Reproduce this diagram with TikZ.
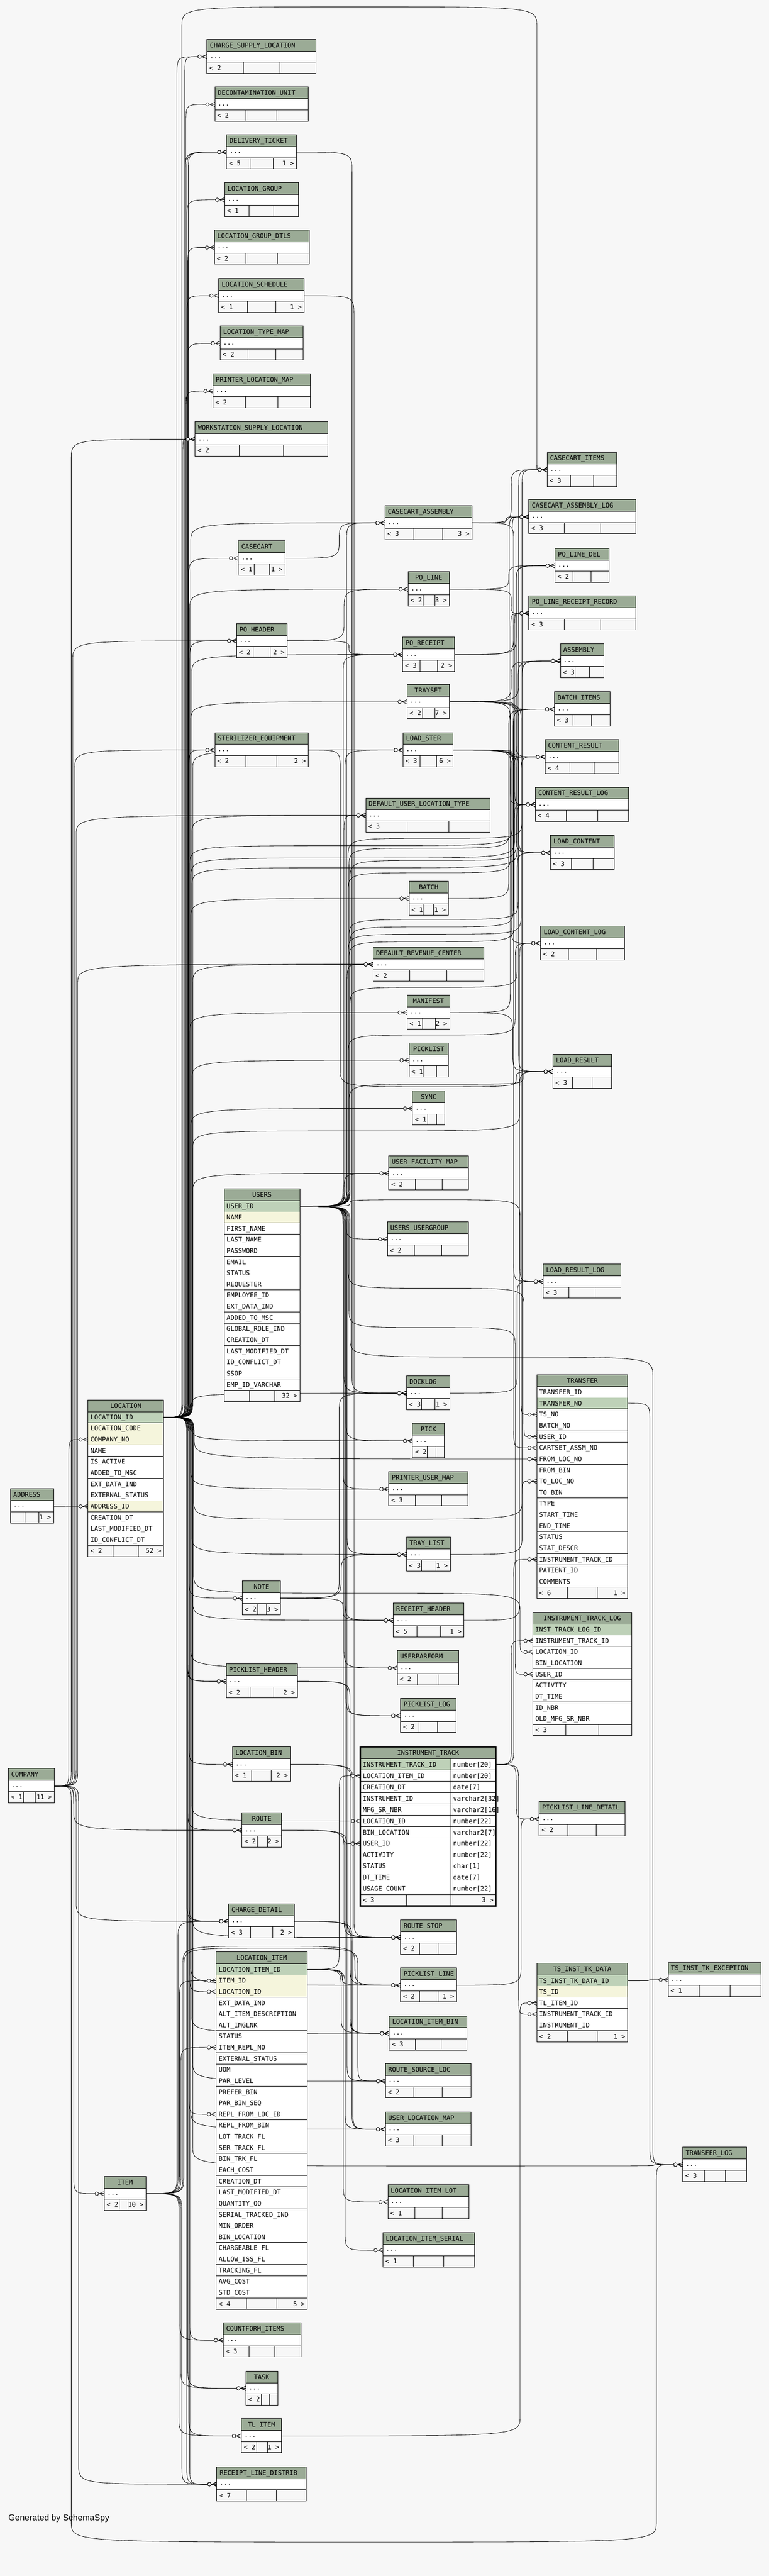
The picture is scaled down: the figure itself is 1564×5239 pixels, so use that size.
\documentclass[tikz,border=0pt]{standalone}
\usepackage{fontspec}
\setmonofont{DejaVu Sans Mono}
\newfontfamily\gensans{Liberation Sans}
\usetikzlibrary{calc}
\pgfdeclarelayer{back}\pgfdeclarelayer{edges}\pgfsetlayers{back,edges,main}
\definecolor{bgc}{HTML}{F7F7F7}
\definecolor{hdc}{HTML}{9BAB96}
\definecolor{pkc}{HTML}{BED1B8}
\definecolor{ixc}{HTML}{F5F5DC}
\tikzset{
 fk/.style={draw=black,line width=0.85pt},
 tb/.style={draw=black,line width=1pt},
 tbnode/.style={draw=black,line width=1pt,fill=bgc,inner sep=0pt,outer sep=0pt,anchor=north west},
 txt/.style={font=\ttfamily\fontsize{13.1pt}{15pt}\selectfont,inner sep=0pt,outer sep=0pt,text=black},
}
% crow's foot with open circle at a child entry
\newcommand\crowat[1]{%
 \draw[fk] ($(#1)+(-18.5,0)$) -- (#1);
 \draw[fk] ($(#1)+(-10,0)$) -- ($(#1)+(0,-4.5)$);
 \draw[fk] ($(#1)+(-10,0)$) -- ($(#1)+(0,4.5)$);
 \draw[fk,fill=bgc] ($(#1)+(-15,0)$) circle[radius=3.6pt];}
% one-bus connector
\newcommand\fkA[3]{%
 \draw[fk] let \p1=(#1), \p2=($(#2)+(-18.5,0)$),
  \n1={(2*((\y2)>(\y1))-1)*min(40,abs((\y2)-(\y1))/2)} in
  (\p1) .. controls (#3pt,\y1) and (#3pt,\y1) .. (#3pt,{\y1+(\n1)})
  -- (#3pt,{\y2-(\n1)}) .. controls (#3pt,\y2) and (#3pt,\y2) .. (\p2);
 \crowat{#2}}
% two-bus connector through a corridor
\newcommand\fkB[5]{%
 \draw[fk] let \p1=(#1), \p2=($(#2)+(-18.5,0)$), \p3=(#3,#4), \p4=(#5,#4),
  \n1={(2*((\y3)>(\y1))-1)*min(40,abs((\y3)-(\y1))/2)},
  \n2={(2*((\y2)>(\y3))-1)*min(40,abs((\y2)-(\y3))/2)} in
  (\p1) .. controls (\x3,\y1) and (\x3,\y1) .. (\x3,{\y1+(\n1)})
  -- (\x3,{\y3-(\n1)}) .. controls (\p3) and (\p3) .. ({(\x3+\x4)/2},\y3)
  .. controls (\p4) and (\p4) .. (\x4,{\y3+(\n2)})
  -- (\x4,{\y2-(\n2)}) .. controls (\x4,\y2) and (\x4,\y2) .. (\p2);
 \crowat{#2}}
% collapsed table core
\newcommand\ctabcore[8]{%
 \pgfmathsetmacro\tbW{#4-#2}%
 \node[tbnode,minimum width=\tbW pt,minimum height=69.33pt] (#1) at (#2,#3) {};
 \fill[hdc] (#2,#3) rectangle (#4,#3+24);
 \fill[white] (#2,#3+24) rectangle (#4,#3+46.67);
 \draw[tb] (#2,#3+24) -- (#4,#3+24) (#2,#3+46.67) -- (#4,#3+46.67);
 \if c#8\node[txt,anchor=base] (#1-h) at ({(#2+#4)/2},#3+16.7) {#5};%
 \else\node[txt,anchor=base west] (#1-h) at (#2+6,#3+16.7) {#5};\fi
 \node[txt,anchor=base west] (#1-d) at (#2+6,#3+38) {...};
 \node[txt,anchor=base west] (#1-fl) at (#2+5,#3+62.7) {#6};
 \node[txt,anchor=base east] (#1-fr) at (#4-5,#3+62.7) {#7};
 \coordinate (#1-in) at (#2,#3+35.33);
 \coordinate (#1-out) at (#4,#3+35.33);}
\newcommand\ctab[8]{%
 \ctabcore{#1}{#2}{#3}{#4}{#5}{#6}{#7}{#8}%
 \pgfmathsetmacro\tbDa{#2+(#4-#2)/3}\pgfmathsetmacro\tbDb{#2+2*(#4-#2)/3}%
 \draw[tb] (\tbDa,#3+46.67) -- (\tbDa,#3+69.33) (\tbDb,#3+46.67) -- (\tbDb,#3+69.33);
 \draw[tb] (#2,#3) rectangle (#4,#3+69.33);}
\newcommand\ctabn[9]{%
 \ctabcore{#1}{#2}{#3}{#4}{#5}{#6}{#7}{#9}%
 \foreach \dx in {#8} {\draw[tb] (\dx,#3+46.67) -- (\dx,#3+69.33);}
 \draw[tb] (#2,#3) rectangle (#4,#3+69.33);}
% full tables
\newcommand\ftab[8]{%
 \pgfmathsetmacro\tbW{#4-#2}%
 \pgfmathsetmacro\tbH{24+(#5+1)*22.667}%
 \node[tbnode,minimum width=\tbW pt,minimum height=\tbH pt] (#1) at (#2,#3) {};
 \fill[hdc] (#2,#3) rectangle (#4,#3+24);
 \node[txt,anchor=base] (#1-h) at ({(#2+#4)/2},#3+16.7) {#6};
 \pgfmathsetmacro\tbFy{#3+24+#5*22.667}%
 \pgfmathsetmacro\tbDa{#2+\tbW/3}\pgfmathsetmacro\tbDb{#2+2*\tbW/3}%
 \draw[tb] (\tbDa,\tbFy) -- (\tbDa,\tbFy+22.667) (\tbDb,\tbFy) -- (\tbDb,\tbFy+22.667);
 \node[txt,anchor=base west] (#1-fl) at (#2+5,\tbFy+16) {#7};
 \node[txt,anchor=base east] (#1-fr) at (#4-5,\tbFy+16) {#8};}
\newcommand\frows[5]{%
 \foreach \s/\t [count=\i from 0] in {#5} {
  \fill[\s] (#2,{#3+24+\i*22.667}) rectangle (#4,{#3+24+(\i+1)*22.667});
  \draw[tb] (#2,{#3+24+(\i+1)*22.667}) -- (#4,{#3+24+(\i+1)*22.667});
  \node[txt,anchor=base west] (#1-r\i) at (#2+5,{#3+24+\i*22.667+16}) {\t};
 }
 \draw[tb] (#2,#3+24) -- (#4,#3+24);}
\newcommand\fborder[1]{\draw[tb] (#1.north west) rectangle (#1.south east);}

\begin{document}
\begin{tikzpicture}[x=1pt,y=-1pt]
\useasboundingbox (0,0) rectangle (1564,5239);
\begin{pgfonlayer}{back}
\fill[bgc] (0,0) rectangle (1564,5239);
\end{pgfonlayer}

% ---------------- collapsed tables ----------------
\ctab{CSL}{421}{80}{643}{CHARGE\_SUPPLY\_LOCATION}{< 2}{}{l}
\ctab{DCU}{437}{177}{627}{DECONTAMINATION\_UNIT}{< 2}{}{l}
\ctab{DLT}{461}{274}{603}{DELIVERY\_TICKET}{< 5}{1 >}{l}
\ctab{LGR}{457}{371}{607}{LOCATION\_GROUP}{< 1}{}{l}
\ctab{LGD}{436}{468}{629}{LOCATION\_GROUP\_DTLS}{< 2}{}{l}
\ctab{LSC}{445}{566}{619}{LOCATION\_SCHEDULE}{< 1}{1 >}{l}
\ctab{LTM}{448}{663}{617}{LOCATION\_TYPE\_MAP}{< 2}{}{l}
\ctab{PLM}{433}{760}{631}{PRINTER\_LOCATION\_MAP}{< 2}{}{l}
\ctab{WSL}{397}{858}{667}{WORKSTATION\_SUPPLY\_LOCATION}{< 2}{}{l}
\ctab{CCA}{783}{1028}{960}{CASECART\_ASSEMBLY}{< 3}{3 >}{l}
\ctab{CCT}{485}{1100}{580}{CASECART}{< 1}{1 >}{l}
\ctabn{POL}{830}{1163}{914}{PO\_LINE}{< 2}{3 >}{861,885}{c}
\ctab{POH}{481}{1268}{584}{PO\_HEADER}{< 2}{2 >}{l}
\ctab{POR}{819}{1296}{925}{PO\_RECEIPT}{< 3}{2 >}{l}
\ctabn{TRS}{828}{1392}{914}{TRAYSET}{< 2}{7 >}{860,885}{c}
\ctab{STE}{437}{1490}{627}{STERILIZER\_EQUIPMENT}{< 2}{2 >}{l}
\ctab{LST}{820}{1490}{922}{LOAD\_STER}{< 3}{6 >}{l}
\ctab{DUL}{744}{1623}{997}{DEFAULT\_USER\_LOCATION\_TYPE}{< 3}{}{l}
\ctabn{BAT}{832}{1792}{912}{BATCH}{< 1}{1 >}{861,882}{c}
\ctab{DRC}{759}{1926}{984}{DEFAULT\_REVENUE\_CENTER}{< 2}{}{l}
\ctabn{MAN}{828}{2024}{915}{MANIFEST}{< 1}{2 >}{860,885.5}{c}
\ctabn{PKL}{832}{2121}{912}{PICKLIST}{< 1}{}{861,887.5}{c}
\ctabn{SYN}{839}{2219}{905}{SYNC}{< 1}{}{870,887.5}{c}
\ctab{UFM}{791}{2351}{953}{USER\_FACILITY\_MAP}{< 2}{}{l}
\ctab{UUG}{788}{2485}{953}{USERS\_USERGROUP}{< 2}{}{l}
\ctabn{DCK}{827}{2798}{915}{DOCKLOG}{< 3}{1 >}{858,885}{l}
\ctabn{PCK}{839}{2895}{904}{PICK}{< 2}{}{869,887}{c}
\ctab{PUM}{791}{2993}{952}{PRINTER\_USER\_MAP}{< 3}{}{l}
\ctabn{TRL}{827}{3126}{916}{TRAY\_LIST}{< 3}{1 >}{858,887}{l}
\ctab{RCH}{800}{3260}{944}{RECEIPT\_HEADER}{< 5}{1 >}{l}
\ctab{UPF}{808}{3357}{933}{USERPARFORM}{< 2}{}{l}
\ctab{PLG}{815}{3454}{928}{PICKLIST\_LOG}{< 2}{}{l}
\ctabn{NOT}{493}{3215}{571}{NOTE}{< 2}{3 >}{524,542}{c}
\ctab{PLH}{460}{3384}{605}{PICKLIST\_HEADER}{< 2}{2 >}{l}
\ctab{LBN}{473}{3553}{591}{LOCATION\_BIN}{< 1}{2 >}{l}
\ctabn{RTE}{492}{3687}{573}{ROUTE}{< 2}{2 >}{523,544}{c}
\ctab{CHD}{465}{3872}{599}{CHARGE\_DETAIL}{< 3}{2 >}{l}
\ctab{RST}{815}{3905}{929}{ROUTE\_STOP}{< 2}{}{l}
\ctab{PLN}{815}{4002}{929}{PICKLIST\_LINE}{< 2}{1 >}{l}
\ctab{LIB}{792}{4100}{950}{LOCATION\_ITEM\_BIN}{< 3}{}{l}
\ctab{RSL}{784}{4197}{958}{ROUTE\_SOURCE\_LOC}{< 2}{}{l}
\ctab{ULM}{784}{4295}{958}{USER\_LOCATION\_MAP}{< 3}{}{l}
\ctab{LIL}{789}{4443}{954}{LOCATION\_ITEM\_LOT}{< 1}{}{l}
\ctab{LIS}{779}{4541}{965}{LOCATION\_ITEM\_SERIAL}{< 1}{}{l}
\ctab{CFI}{454}{4724}{612}{COUNTFORM\_ITEMS}{< 3}{}{l}
\ctabn{TSK}{500}{4822}{565}{TASK}{< 2}{}{532,548}{c}
\ctabn{TLI}{491}{4919}{573}{TL\_ITEM}{< 2}{1 >}{522,544}{c}
\ctab{RLD}{441}{5017}{623}{RECEIPT\_LINE\_DISTRIB}{< 7}{}{l}
\ctabn{ITM}{212}{4426}{297}{ITEM}{< 2}{10 >}{243,260}{c}
\ctabn{CMP}{17}{3597}{111}{COMPANY}{< 1}{11 >}{48,72}{l}
\ctabn{ADR}{21}{3028}{109}{ADDRESS}{}{1 >}{51,79}{l}
\ctab{CCI}{1113}{920}{1255}{CASECART\_ITEMS}{< 3}{}{l}
\ctab{CAL}{1076}{1016}{1293}{CASECART\_ASSEMBLY\_LOG}{< 3}{}{l}
\ctab{PLD}{1129}{1115}{1239}{PO\_LINE\_DEL}{< 2}{}{l}
\ctab{PRR}{1076}{1212}{1293}{PO\_LINE\_RECEIPT\_RECORD}{< 3}{}{l}
\ctab{ASM}{1140}{1309}{1229}{ASSEMBLY}{< 3}{}{l}
\ctab{BTI}{1128}{1407}{1241}{BATCH\_ITEMS}{< 3}{}{l}
\ctab{CRS}{1109}{1504}{1259}{CONTENT\_RESULT}{< 4}{}{l}
\ctab{CRL}{1089}{1601}{1279}{CONTENT\_RESULT\_LOG}{< 4}{}{l}
\ctab{LCT}{1120}{1699}{1249}{LOAD\_CONTENT}{< 3}{}{l}
\ctab{LCL}{1100}{1883}{1270}{LOAD\_CONTENT\_LOG}{< 2}{}{l}
\ctab{LRS}{1125}{2144}{1244}{LOAD\_RESULT}{< 3}{}{l}
\ctab{LRL}{1105}{2571}{1263}{LOAD\_RESULT\_LOG}{< 3}{}{l}
\ctab{PLX}{1097}{3664}{1271}{PICKLIST\_LINE\_DETAIL}{< 2}{}{l}
\ctab{TSX}{1359}{3991}{1548}{TS\_INST\_TK\_EXCEPTION}{< 1}{}{l}
\ctab{TRG}{1389}{4367}{1519}{TRANSFER\_LOG}{< 3}{}{l}

% ---------------- full tables ----------------
\ftab{USR}{456}{2418}{610}{17}{USERS}{}{32 >}
\frows{USR}{456}{2418}{610}{pkc/USER\_ID, ixc/NAME, white/FIRST\_NAME, white/LAST\_NAME, white/PASSWORD, white/EMAIL, white/STATUS, white/REQUESTER, white/EMPLOYEE\_ID, white/EXT\_DATA\_IND, white/ADDED\_TO\_MSC, white/GLOBAL\_ROLE\_IND, white/CREATION\_DT, white/LAST\_MODIFIED\_DT, white/ID\_CONFLICT\_DT, white/SSOP, white/EMP\_ID\_VARCHAR}
\fborder{USR}

\ftab{LOC}{179}{2847}{333}{12}{LOCATION}{< 2}{52 >}
\frows{LOC}{179}{2847}{333}{pkc/LOCATION\_ID, ixc/LOCATION\_CODE, ixc/COMPANY\_NO, white/NAME, white/IS\_ACTIVE, white/ADDED\_TO\_MSC, white/EXT\_DATA\_IND, white/EXTERNAL\_STATUS, ixc/ADDRESS\_ID, white/CREATION\_DT, white/LAST\_MODIFIED\_DT, white/ID\_CONFLICT\_DT}
\fborder{LOC}

\ftab{TRF}{1092}{2796}{1277}{18}{TRANSFER}{< 6}{1 >}
\frows{TRF}{1092}{2796}{1277}{white/TRANSFER\_ID, pkc/TRANSFER\_NO, white/TS\_NO, white/BATCH\_NO, white/USER\_ID, white/CARTSET\_ASSM\_NO, white/FROM\_LOC\_NO, white/FROM\_BIN, white/TO\_LOC\_NO, white/TO\_BIN, white/TYPE, white/START\_TIME, white/END\_TIME, white/STATUS, white/STAT\_DESCR, white/INSTRUMENT\_TRACK\_ID, white/PATIENT\_ID, white/COMMENTS}
\fborder{TRF}

\ftab{ITL}{1084}{3279}{1285}{9}{INSTRUMENT\_TRACK\_LOG}{< 3}{}
\frows{ITL}{1084}{3279}{1285}{pkc/INST\_TRACK\_LOG\_ID, white/INSTRUMENT\_TRACK\_ID, white/LOCATION\_ID, white/BIN\_LOCATION, white/USER\_ID, white/ACTIVITY, white/DT\_TIME, white/ID\_NBR, white/OLD\_MFG\_SR\_NBR}
\fborder{ITL}

\ftab{TSD}{1092}{3993}{1277}{5}{TS\_INST\_TK\_DATA}{< 2}{1 >}
\frows{TSD}{1092}{3993}{1277}{pkc/TS\_INST\_TK\_DATA\_ID, ixc/TS\_ID, white/TL\_ITEM\_ID, white/INSTRUMENT\_TRACK\_ID, white/INSTRUMENT\_ID}
\fborder{TSD}

\ftab{LIT}{440}{3970}{625}{30}{LOCATION\_ITEM}{< 4}{5 >}
\frows{LIT}{440}{3970}{625}{pkc/LOCATION\_ITEM\_ID, ixc/ITEM\_ID, ixc/LOCATION\_ID, white/EXT\_DATA\_IND, white/ALT\_ITEM\_DESCRIPTION, white/ALT\_IMGLNK, white/STATUS, white/ITEM\_REPL\_NO, white/EXTERNAL\_STATUS, white/UOM, white/PAR\_LEVEL, white/PREFER\_BIN, white/PAR\_BIN\_SEQ, white/REPL\_FROM\_LOC\_ID, white/REPL\_FROM\_BIN, white/LOT\_TRACK\_FL, white/SER\_TRACK\_FL, white/BIN\_TRK\_FL, white/EACH\_COST, white/CREATION\_DT, white/LAST\_MODIFIED\_DT, white/QUANTITY\_OO, white/SERIAL\_TRACKED\_IND, white/MIN\_ORDER, white/BIN\_LOCATION, white/CHARGEABLE\_FL, white/ALLOW\_ISS\_FL, white/TRACKING\_FL, white/AVG\_COST, white/STD\_COST}
\fborder{LIT}

% INSTRUMENT_TRACK (selected table, two columns)
\node[draw=black,line width=3pt,fill=bgc,inner sep=0pt,outer sep=0pt,anchor=north west,minimum width=276pt,minimum height=323pt] (INT) at (733,3553) {};
\fill[hdc] (733,3553) rectangle (1009,3577);
\node[txt,anchor=base] (INT-h) at (871,3569.7) {INSTRUMENT\_TRACK};
\foreach \c/\nm/\ty [count=\i from 0] in {pkc/INSTRUMENT\_TRACK\_ID/number[20], white/LOCATION\_ITEM\_ID/number[20], white/CREATION\_DT/date[7], white/INSTRUMENT\_ID/varchar2[32], white/MFG\_SR\_NBR/varchar2[16], white/LOCATION\_ID/number[22], white/BIN\_LOCATION/varchar2[7], white/USER\_ID/number[22], white/ACTIVITY/number[22], white/STATUS/char[1], white/DT\_TIME/date[7], white/USAGE\_COUNT/number[22]} {
  \fill[\c] (733,{3577+\i*23}) rectangle (917,{3600+\i*23});
  \fill[white] (917,{3577+\i*23}) rectangle (1009,{3600+\i*23});
  \draw[tb] (733,{3600+\i*23}) -- (1009,{3600+\i*23});
  \node[txt,anchor=base west] (INT-n\i) at (738,{3577+\i*23+16.2}) {\nm};
  \node[txt,anchor=base west] (INT-t\i) at (922,{3577+\i*23+16.2}) {\ty};
}
\draw[tb] (733,3577) -- (1009,3577) (917,3577) -- (917,3876) (827,3853) -- (827,3876);
\node[txt,anchor=base west] (INT-fl) at (738,3869.2) {< 3};
\node[txt,anchor=base east] (INT-fr) at (1004,3869.2) {3 >};
\draw[draw=black,line width=3pt] (733,3553) rectangle (1009,3876);

\node[font=\gensans\fontsize{17.5pt}{20pt}\selectfont,anchor=base west,inner sep=0pt] (gen) at (17,5126) {Generated by SchemaSpy};

% ---------------- connector anchors of full tables ----------------
\coordinate (LOC-out) at ($(LOC.north east)+(0,35.33)$);
\coordinate (LOC-cmp) at ($(LOC.north west)+(0,80.67)$);
\coordinate (LOC-adr) at ($(LOC.north west)+(0,216.67)$);
\coordinate (USR-out) at ($(USR.north east)+(0,35.33)$);
\coordinate (TRF-out) at ($(TRF.north east)+(0,58)$);
\coordinate (TRF-ts) at ($(TRF.north west)+(0,80.67)$);
\coordinate (TRF-usr) at ($(TRF.north west)+(0,126)$);
\coordinate (TRF-cart) at ($(TRF.north west)+(0,148.67)$);
\coordinate (TRF-from) at ($(TRF.north west)+(0,171.33)$);
\coordinate (TRF-to) at ($(TRF.north west)+(0,216.67)$);
\coordinate (TRF-it) at ($(TRF.north west)+(0,375.4)$);
\coordinate (ITL-it) at ($(ITL.north west)+(0,58)$);
\coordinate (ITL-loc) at ($(ITL.north west)+(0,80.67)$);
\coordinate (ITL-usr) at ($(ITL.north west)+(0,126)$);
\coordinate (INT-out) at ($(INT.north east)+(0,35.5)$);
\coordinate (INT-li) at ($(INT.north west)+(0,58.5)$);
\coordinate (INT-loc) at ($(INT.north west)+(0,150.5)$);
\coordinate (INT-usr) at ($(INT.north west)+(0,196.5)$);
\coordinate (TSD-out) at ($(TSD.north east)+(0,35.33)$);
\coordinate (TSD-tl) at ($(TSD.north west)+(0,80.67)$);
\coordinate (TSD-it) at ($(TSD.north west)+(0,103.33)$);
\coordinate (LIT-out) at ($(LIT.north east)+(0,35.33)$);
\coordinate (LIT-item) at ($(LIT.north west)+(0,58)$);
\coordinate (LIT-loc) at ($(LIT.north west)+(0,80.67)$);
\coordinate (LIT-repl) at ($(LIT.north west)+(0,194)$);
\coordinate (LIT-rloc) at ($(LIT.north west)+(0,330)$);

% ---------------- connectors ----------------
\begin{pgfonlayer}{edges}
% COMPANY and ADDRESS
\fkA{CMP-out}{LOC-cmp}{140}
\fkA{CMP-out}{ITM-in}{150}
\fkA{CMP-out}{WSL-in}{145}
\fkA{CMP-out}{POH-in}{148}
\fkA{CMP-out}{STE-in}{152}
\fkA{CMP-out}{DUL-in}{155}
\fkA{CMP-out}{DRC-in}{158}
\fkA{CMP-out}{RTE-in}{150}
\fkA{CMP-out}{CHD-in}{155}
\fkA{CMP-out}{RLD-in}{160}
\fkB{CMP-out}{TRG-in}{145}{5170}{1335}
\fkA{ADR-out}{LOC-adr}{135}
% LOCATION
\fkA{LOC-out}{CSL-in}{376}
\fkA{LOC-out}{DCU-in}{378}
\fkA{LOC-out}{DLT-in}{377}
\fkA{LOC-out}{DLT-in}{380}
\fkA{LOC-out}{DLT-in}{383}
\fkA{LOC-out}{LGR-in}{380}
\fkA{LOC-out}{LGD-in}{382}
\fkA{LOC-out}{LSC-in}{380}
\fkA{LOC-out}{LTM-in}{382}
\fkA{LOC-out}{PLM-in}{378}
\fkA{LOC-out}{WSL-in}{372}
\fkA{LOC-out}{CCT-in}{384}
\fkA{LOC-out}{POH-in}{386}
\fkA{LOC-out}{STE-in}{384}
\fkA{LOC-out}{CCA-in}{388}
\fkA{LOC-out}{POL-in}{386}
\fkA{LOC-out}{POR-in}{390}
\fkA{LOC-out}{TRS-in}{388}
\fkA{LOC-out}{LST-in}{392}
\fkA{LOC-out}{DUL-in}{390}
\fkA{LOC-out}{BAT-in}{388}
\fkA{LOC-out}{DRC-in}{392}
\fkA{LOC-out}{MAN-in}{386}
\fkA{LOC-out}{PKL-in}{390}
\fkA{LOC-out}{SYN-in}{388}
\fkA{LOC-out}{UFM-in}{392}
\fkB{LOC-out}{CCI-in}{370}{14}{1092}
\fkB{LOC-out}{CAL-in}{386}{1720}{1042}
\fkB{LOC-out}{PRR-in}{388}{1745}{1047}
\fkB{LOC-out}{CRL-in}{390}{1765}{1052}
\fkB{LOC-out}{LRS-in}{392}{2300}{1057}
\fkA{LOC-out}{DCK-in}{390}
\fkA{LOC-out}{PCK-in}{392}
\fkA{LOC-out}{PUM-in}{388}
\fkA{LOC-out}{TRL-in}{390}
\fkA{LOC-out}{RCH-in}{392}
\fkA{LOC-out}{UPF-in}{388}
\fkA{LOC-out}{INT-loc}{390}
\fkA{LOC-out}{RST-in}{392}
\fkA{LOC-out}{PLN-in}{388}
\fkA{LOC-out}{LIB-in}{390}
\fkA{LOC-out}{RSL-in}{392}
\fkA{LOC-out}{ULM-in}{388}
\fkA{LOC-out}{NOT-in}{384}
\fkA{LOC-out}{PLH-in}{380}
\fkA{LOC-out}{PLH-in}{382}
\fkA{LOC-out}{LBN-in}{384}
\fkA{LOC-out}{RTE-in}{382}
\fkA{LOC-out}{CHD-in}{380}
\fkA{LOC-out}{CHD-in}{384}
\fkA{LOC-out}{LIT-loc}{386}
\fkA{LOC-out}{LIT-rloc}{384}
\fkA{LOC-out}{CFI-in}{386}
\fkA{LOC-out}{TSK-in}{382}
\fkA{LOC-out}{TLI-in}{384}
\fkA{LOC-out}{RLD-in}{380}
\fkA{LOC-out}{RLD-in}{386}
\fkA{LOC-out}{TRF-from}{395}
\fkB{LOC-out}{TRF-to}{394}{3090}{1062}
\fkB{LOC-out}{ITL-loc}{394}{3240}{1058}
\fkB{LOC-out}{TRG-in}{392}{4405}{1330}
% USERS
\fkA{USR-out}{DUL-in}{700}
\fkA{USR-out}{CCA-in}{705}
\fkA{USR-out}{POR-in}{698}
\fkA{USR-out}{LST-in}{702}
\fkA{USR-out}{DRC-in}{706}
\fkA{USR-out}{UFM-in}{700}
\fkA{USR-out}{UUG-in}{704}
\fkA{USR-out}{DCK-in}{700}
\fkA{USR-out}{PCK-in}{704}
\fkA{USR-out}{PUM-in}{698}
\fkA{USR-out}{TRL-in}{706}
\fkA{USR-out}{RCH-in}{702}
\fkA{USR-out}{UPF-in}{700}
\fkA{USR-out}{PLG-in}{704}
\fkA{USR-out}{INT-usr}{698}
\fkA{USR-out}{ULM-in}{702}
\fkA{USR-out}{RST-in}{706}
\fkB{USR-out}{CCI-in}{708}{1705}{1062}
\fkB{USR-out}{CAL-in}{710}{1725}{1036}
\fkB{USR-out}{PLD-in}{712}{1750}{1050}
\fkB{USR-out}{PRR-in}{708}{1775}{1039}
\fkB{USR-out}{ASM-in}{710}{1870}{1054}
\fkB{USR-out}{BTI-in}{712}{1885}{1044}
\fkB{USR-out}{CRS-in}{708}{1900}{1060}
\fkB{USR-out}{CRL-in}{710}{1915}{1046}
\fkB{USR-out}{LCT-in}{712}{2008}{1052}
\fkB{USR-out}{LCL-in}{708}{2105}{1048}
\fkB{USR-out}{LRS-in}{710}{2205}{1064}
\fkB{USR-out}{LRL-in}{712}{2440}{1058}
\fkB{USR-out}{TRF-usr}{708}{2620}{1066}
\fkB{USR-out}{ITL-usr}{710}{2700}{1048}
\fkB{USR-out}{TRG-in}{712}{2760}{1328}
% ITEM
\fkA{ITM-out}{LIT-item}{365}
\fkA{ITM-out}{LIT-repl}{368}
\fkA{ITM-out}{CHD-in}{362}
\fkA{ITM-out}{CFI-in}{366}
\fkA{ITM-out}{TSK-in}{368}
\fkA{ITM-out}{TLI-in}{364}
\fkA{ITM-out}{RLD-in}{370}
\fkB{ITM-out}{PLN-in}{372}{3958}{722}
\fkB{ITM-out}{RSL-in}{374}{3962}{728}
\fkA{ITM-out}{CSL-in}{360}
% middle column parents
\fkA{CCT-out}{CCA-in}{690}
\fkA{POH-out}{POL-in}{700}
\fkA{POH-out}{POR-in}{710}
\fkA{STE-out}{LST-in}{700}
\fkB{STE-out}{LRS-in}{692}{2210}{1050}
\fkA{DLT-out}{DCK-in}{716}
\fkA{LSC-out}{RST-in}{720}
\fkA{NOT-out}{DCK-in}{690}
\fkA{NOT-out}{TRL-in}{694}
\fkA{NOT-out}{RCH-in}{698}
\fkA{PLH-out}{PLN-in}{712}
\fkA{PLH-out}{PLG-in}{708}
\fkA{LBN-out}{LIB-in}{714}
\fkA{LBN-out}{ULM-in}{718}
\fkA{RTE-out}{RST-in}{700}
\fkA{RTE-out}{RSL-in}{706}
\fkA{CHD-out}{LIB-in}{712}
\fkA{CHD-out}{ULM-in}{716}
\fkA{LIT-out}{INT-li}{690}
\fkA{LIT-out}{LIB-in}{694}
\fkA{LIT-out}{LIL-in}{698}
\fkA{LIT-out}{LIS-in}{702}
\fkA{LIT-out}{PLN-in}{696}
\fkA{TLI-out}{TSD-tl}{1058}
% rank 3 to right column
\fkA{CCA-out}{CCI-in}{1040}
\fkA{CCA-out}{CAL-in}{1030}
\fkA{CCA-out}{TRF-cart}{1045}
\fkA{POL-out}{PLD-in}{1035}
\fkA{POL-out}{PRR-in}{1040}
\fkA{POR-out}{PRR-in}{1045}
\fkA{POR-out}{PLD-in}{1050}
\fkA{TRS-out}{CCI-in}{1055}
\fkA{TRS-out}{ASM-in}{1040}
\fkA{TRS-out}{BTI-in}{1045}
\fkA{TRS-out}{CRS-in}{1050}
\fkA{TRS-out}{CRL-in}{1038}
\fkA{TRS-out}{LCT-in}{1055}
\fkA{TRS-out}{TRF-ts}{1060}
\fkA{LST-out}{CRS-in}{1042}
\fkA{LST-out}{CRL-in}{1047}
\fkA{LST-out}{LCT-in}{1050}
\fkA{LST-out}{LCL-in}{1040}
\fkA{LST-out}{LRS-in}{1055}
\fkA{LST-out}{LRL-in}{1045}
\fkA{BAT-out}{BTI-in}{1035}
\fkA{MAN-out}{CRS-in}{1038}
\fkA{MAN-out}{LRS-in}{1043}
\fkA{DCK-out}{LRL-in}{1052}
\fkA{TRL-out}{ASM-in}{1062}
\fkA{RCH-out}{LCL-in}{1057}
\fkA{INT-out}{TRF-it}{1045}
\fkA{INT-out}{ITL-it}{1040}
\fkA{INT-out}{PLX-in}{1050}
\fkA{INT-out}{TSD-it}{1055}
\fkA{PLN-out}{PLX-in}{1060}
\fkA{TRF-out}{TRG-in}{1322}
\fkA{TSD-out}{TSX-in}{1320}
\end{pgfonlayer}
\end{tikzpicture}
\end{document}
